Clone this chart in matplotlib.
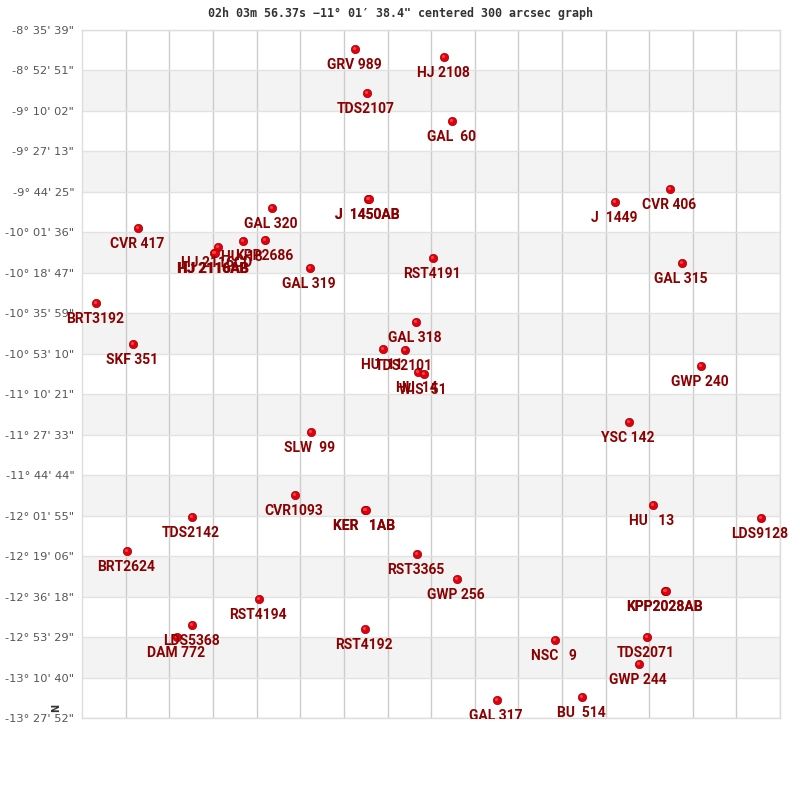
import matplotlib
matplotlib.use("Agg")
import matplotlib.pyplot as plt
from matplotlib.transforms import offset_copy

names = ["GRV 989","HJ 2108","TDS2107","GAL  60","GAL 320","J  1450AB","J  1450AB","J  1449","CVR 406","CVR 417",
         "HJ 2116CD","HJ 2116AB","HJ 2116AB","HU  18","KPP2686","GAL 319","RST4191","GAL 315","BRT3192","SKF 351",
         "GAL 318","HU  11","TDS2101","HU  14","WIS  51","GWP 240","YSC 142","SLW  99","CVR1093","KER   1AB","KER   1AB",
         "HU   13","LDS9128","TDS2142","BRT2624","RST3365","GWP 256","KPP2028AB","KPP2028AB","RST4194","LDS5368","DAM 772",
         "RST4192","NSC   9","TDS2071","GWP 244","GAL 317","BU  514"]
star_x = [355,444,367,452,272,368,368.5,615,670,138,
          218,214,214.5,243,265,310,433,682,96,133,
          416,383,405,418,424,701,629,311,295,365,365.5,
          653,761,192,127,417,457,665,665.5,259,192,177,
          365,555,647,639,497,582]
star_y = [49,57,93,121,208,199,199,202,189,228,
          247,253,253,241,240,268,258,263,303,344,
          322,349,350,372,374,366,422,432,495,510,510,
          505,518,517,551,554,579,591,591,599,625,637,
          629,640,637,664,700,697]

x_grid = [82,126,169,213,257,300,344,388,431,475,518,562,606,649,693,736,780]
y_grid = [30,70,111,151,192,232,273,313,354,394,435,475,516,556,597,637,678,718]
y_labels = ['-8° 35\' 39"','-8° 52\' 51"','-9° 10\' 02"','-9° 27\' 13"','-9° 44\' 25"','-10° 01\' 36"',
            '-10° 18\' 47"','-10° 35\' 59"','-10° 53\' 10"','-11° 10\' 21"','-11° 27\' 33"','-11° 44\' 44"',
            '-12° 01\' 55"','-12° 19\' 06"','-12° 36\' 18"','-12° 53\' 29"','-13° 10\' 40"','-13° 27\' 52"']
title = "02h 03m 56.37s \u221211° 01\u2032 38.4\" centered 300 arcsec graph"

fig = plt.figure(figsize=(8, 8), dpi=100)
ax = fig.add_axes([82/800, (800-718)/800, 698/800, 688/800])
ax.set_xlim(x_grid[0], x_grid[-1])
ax.set_ylim(y_grid[-1], y_grid[0])
for i in range(1, len(y_grid)-1, 2):
    ax.axhspan(y_grid[i], y_grid[i+1], color="#f3f3f3", lw=0, zorder=0)
ax.vlines(x_grid[1:], y_grid[0], y_grid[-1], color="#cccccc", lw=1.0, zorder=1)
ax.hlines(y_grid, x_grid[0], x_grid[-1], color="#e2e2e2", lw=1.0, zorder=1)
for s in ax.spines.values():
    s.set_color("#dddddd"); s.set_linewidth(1.0)
ax.set_xticks([])
ax.set_yticks(y_grid)
ax.set_yticklabels(y_labels, fontsize=8.2, color="#555555", family="DejaVu Sans")
ax.tick_params(axis="y", length=0, pad=5.5)

ax.scatter(star_x, star_y, s=36, color="#e00010", edgecolors="#a00000", linewidths=0.5, zorder=3)
ax.scatter([x-0.9 for x in star_x], [y-0.9 for y in star_y], s=5, color="#ff4040", linewidths=0, zorder=4)

lab_tr = offset_copy(ax.transData, fig=fig, x=-1, y=-16, units="dots")
for x, y, n in zip(star_x, star_y, names):
    t = ax.text(x, y, n, transform=lab_tr, ha="center", va="center", fontsize=10,
                family="Roboto", weight="bold", color="#8b0000", zorder=5)
    t.set_clip_path(plt.Rectangle((0, 81), 800, 719, transform=None))
    t.set_clip_on(True)

fig.text(400/800, 1-13/800, title, ha="center", va="center", family="DejaVu Sans Mono",
         fontsize=8.35, weight="bold", color="#333333")
fig.text(56/800, 1-708/800, "N", rotation=90, ha="center", va="center", fontsize=7,
         weight="bold", color="#333333")
fig.savefig("out.png", dpi=100)
